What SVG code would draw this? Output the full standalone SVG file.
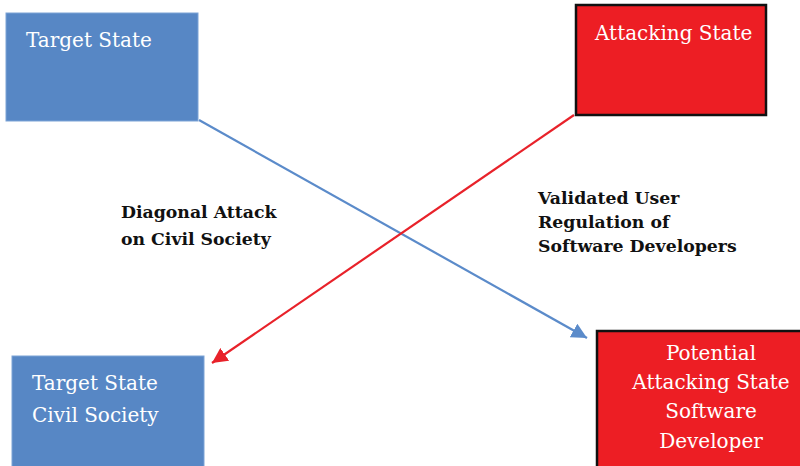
<svg xmlns="http://www.w3.org/2000/svg" width="800" height="466" viewBox="0 0 800 466">
<style>
.blue{fill:#5787C5;stroke:#7DA3D6;stroke-width:1}
.red{fill:#ED1E24;stroke:#111;stroke-width:2.5}
.nt{font-family:"DejaVu Serif","Liberation Serif",serif;font-size:20px;fill:#fff}
.lb{font-family:"DejaVu Serif","Liberation Serif",serif;font-size:17.3px;font-weight:bold;fill:#111}
</style>
<defs>
<marker id="ab" viewBox="0 0 10 10" refX="10" refY="5" markerWidth="7" markerHeight="7" orient="auto" markerUnits="strokeWidth"><path d="M0,0 L10,5 L0,10 z" fill="#5B8BCA"/></marker>
<marker id="ar" viewBox="0 0 10 10" refX="10" refY="5" markerWidth="7" markerHeight="7" orient="auto" markerUnits="strokeWidth"><path d="M0,0 L10,5 L0,10 z" fill="#E8222A"/></marker>
</defs>
<g id="connectors">
<line x1="199" y1="120" x2="587" y2="338" stroke="#5B8BCA" stroke-width="2.2" marker-end="url(#ab)"/>
<line x1="574" y1="115" x2="212" y2="363" stroke="#E8222A" stroke-width="2.2" marker-end="url(#ar)"/>
</g>
<g id="target-state">
<rect class="blue" x="6" y="13" width="192" height="108"/>
<text class="nt" x="26" y="47">Target State</text>
</g>
<g id="attacking-state">
<rect class="red" x="576" y="5" width="190" height="110"/>
<text class="nt" x="595" y="40">Attacking State</text>
</g>
<g id="target-civil">
<rect class="blue" x="12" y="356" width="192" height="115"/>
<text class="nt" x="32" y="390">Target State</text>
<text class="nt" x="32" y="422">Civil Society</text>
</g>
<g id="potential-attacking">
<rect class="red" x="597" y="331" width="210" height="140"/>
<text class="nt" text-anchor="middle" x="711" y="360">Potential</text>
<text class="nt" text-anchor="middle" x="711" y="389">Attacking State</text>
<text class="nt" text-anchor="middle" x="711" y="418">Software</text>
<text class="nt" text-anchor="middle" x="711" y="448">Developer</text>
</g>
<g id="label-diagonal">
<text class="lb" x="121" y="218">Diagonal Attack</text>
<text class="lb" x="121" y="245">on Civil Society</text>
</g>
<g id="label-validated">
<text class="lb" x="538" y="204">Validated User</text>
<text class="lb" x="538" y="228">Regulation of</text>
<text class="lb" x="538" y="252">Software Developers</text>
</g>
</svg>
